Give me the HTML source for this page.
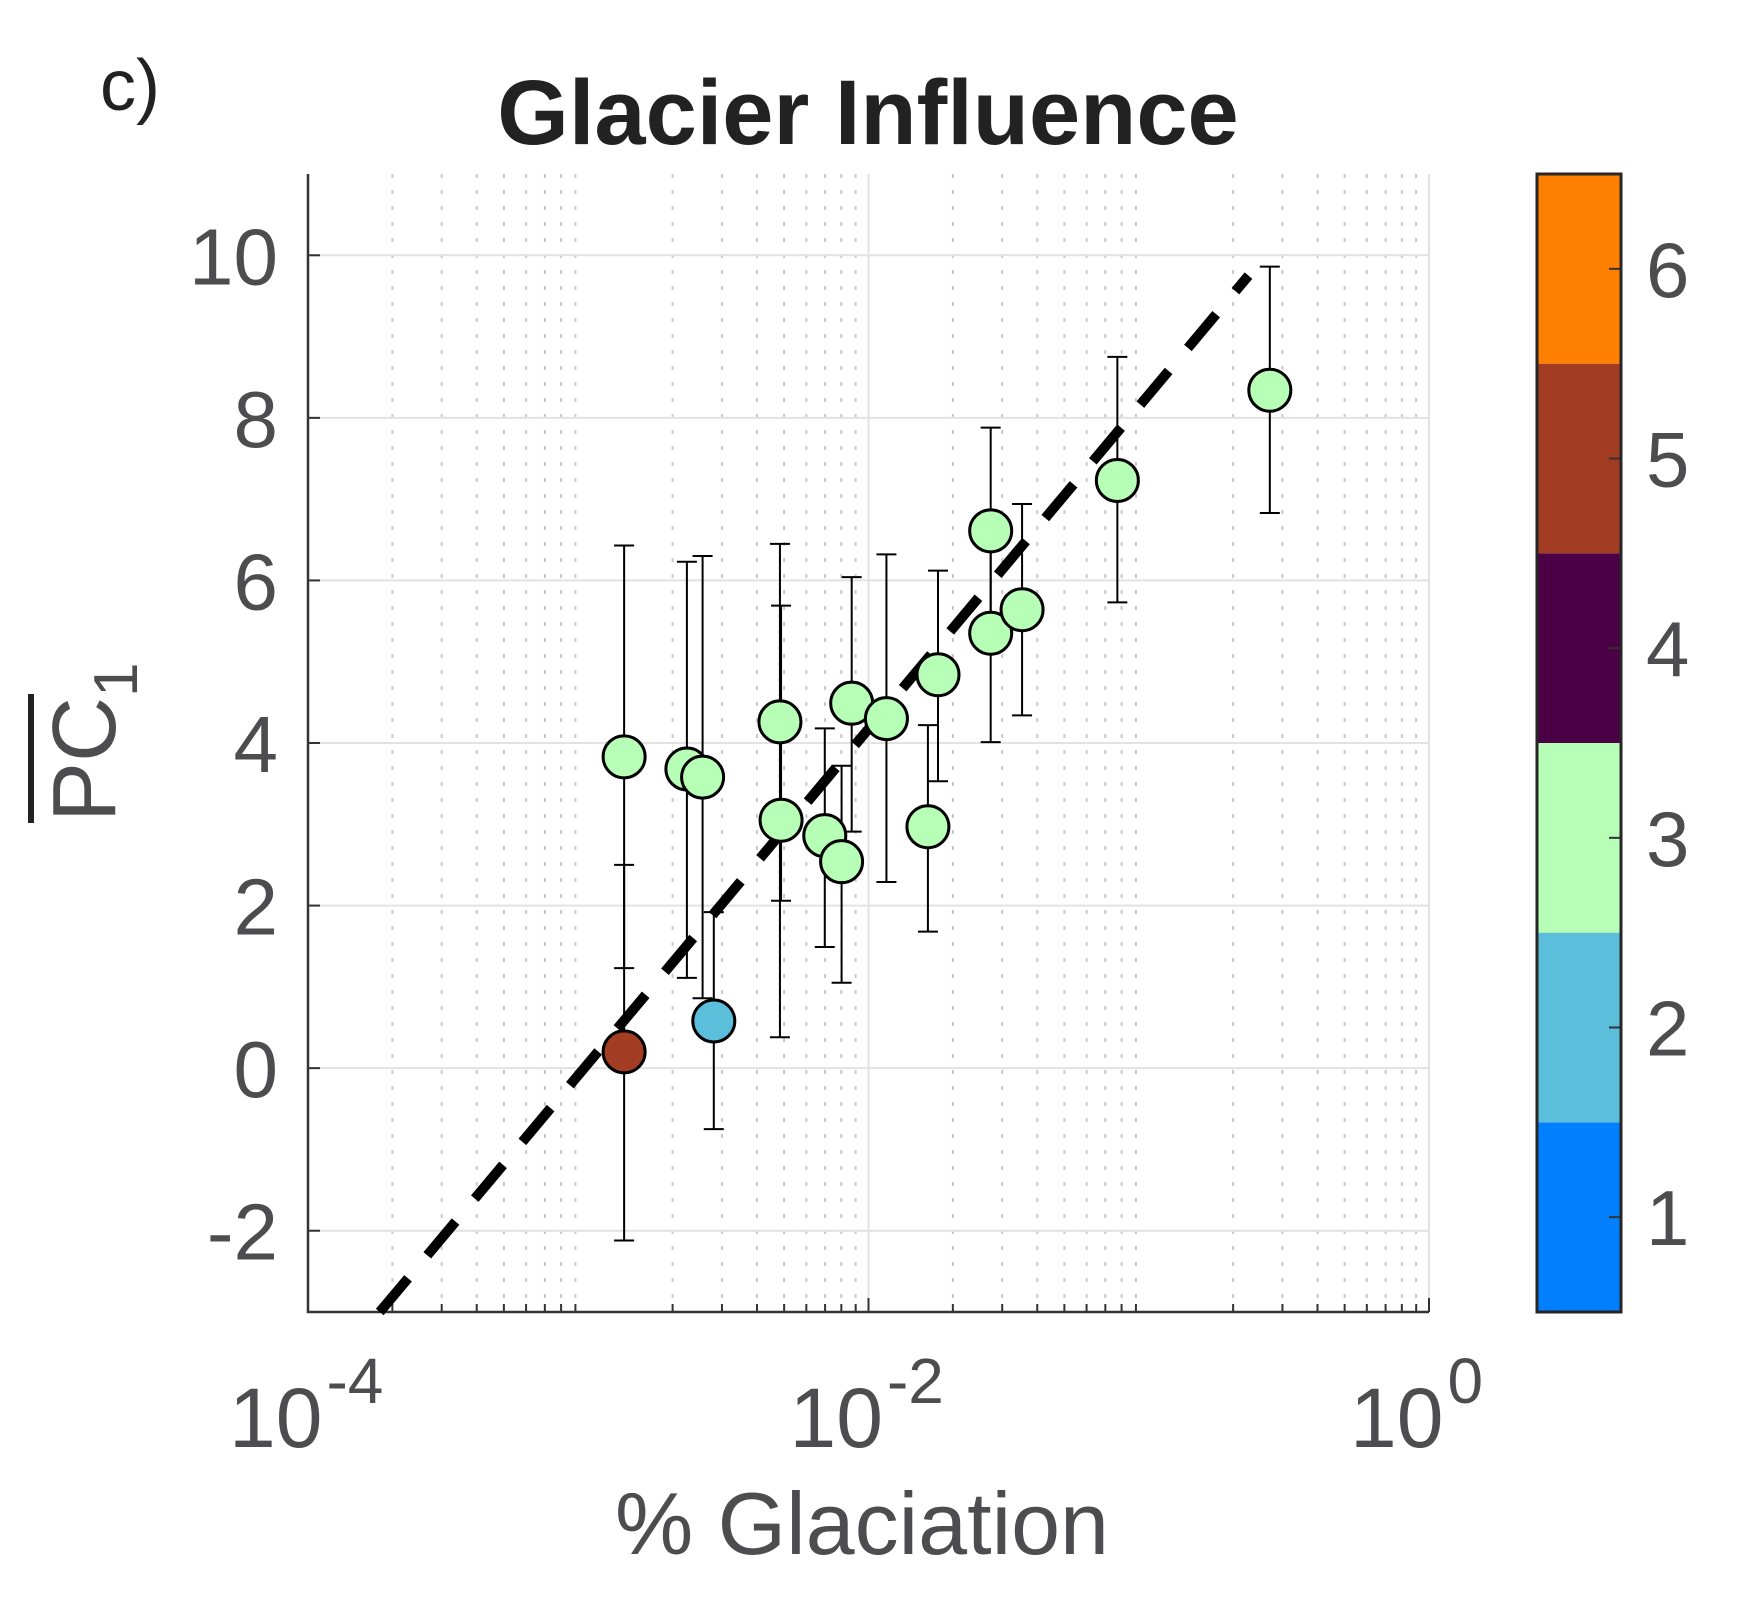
<!DOCTYPE html>
<html><head><meta charset="utf-8"><style>
body{margin:0;background:#fff}
svg{display:block}
text{font-family:"Liberation Sans",Arial,sans-serif}
</style></head><body>
<svg id="chart" width="1755" height="1608" viewBox="0 0 1755 1608" xmlns="http://www.w3.org/2000/svg">
<rect width="1755" height="1608" fill="#fff"/>
<g id="grid"></g>
<g id="axes"></g>
<g id="fit"></g>
<g id="errs"></g>
<g id="pts"></g>
<g id="cbar"></g>
<text x="100" y="110" font-size="72" fill="#222">c)</text>
<text x="868" y="144" font-size="92" font-weight="bold" fill="#222" text-anchor="middle">Glacier Influence</text>
<text x="862" y="1554" font-size="88" fill="#4d4d4f" text-anchor="middle">% Glaciation</text>
<g transform="translate(115,822) rotate(-90)">
<text x="0" y="0" font-size="90" fill="#4d4d4f">PC<tspan font-size="62" dy="22">1</tspan></text>
<line x1="-1" y1="-84" x2="128" y2="-84" stroke="#222" stroke-width="6"/>
</g>
</svg>
<script>
const logX = [-2.872,-2.872,-2.648,-2.592,-2.552,-2.316,-2.312,-2.156,-2.096,-2.06,-1.936,-1.788,-1.752,-1.564,-1.564,-1.452,-1.112,-0.568];
const yVal = [3.83,0.20,3.68,3.58,0.58,4.26,3.05,2.86,2.54,4.49,4.30,2.97,4.84,6.61,5.35,5.64,7.23,8.34];
const yHi = [6.43,2.50,6.23,6.30,1.92,6.45,5.69,4.18,3.72,6.04,6.32,4.22,6.12,7.88,6.60,6.94,8.75,9.86];
const yLo = [1.23,-2.12,1.11,0.86,-0.75,0.38,2.06,1.49,1.05,2.91,2.29,1.68,3.53,5.34,4.01,4.34,5.73,6.83];
const cls = [3,5,3,3,2,3,3,3,3,3,3,3,3,3,3,3,3,3];
const fitLog = [-3.744,-0.644];
const fitY = [-3.0,9.75];
const yTicks = [-2,0,2,4,6,8,10];
const xDecades = [-4,-2,0];
const cbarClasses = [1,2,3,4,5,6];
const cbarColors = ["#0080ff","#5bbfdc","#b7ffb7","#4b0045","#a23d23","#ff8000"];

const NS="http://www.w3.org/2000/svg";
const L=308,R=1429,T=174,B=1312;
const xs=v=>L+(v+4)/4*(R-L);
const ys=v=>B-(v+3)/14*(B-T);
function mk(p,tag,a){const e=document.createElementNS(NS,tag);for(const k in a)e.setAttribute(k,a[k]);p.appendChild(e);return e;}
const grid=document.getElementById('grid'),axes=document.getElementById('axes');
for(let d=-4;d<0;d++)for(let m=2;m<10;m++){
  const x=xs(d+Math.log10(m));
  const l=mk(grid,'line',{x1:x,y1:T,x2:x,y2:B,stroke:'#c8c8c8','stroke-width':2,'stroke-dasharray':'4 12'});
  
  
  const t=mk(axes,'line',{x1:x,y1:B,x2:x,y2:B-8,stroke:'#333','stroke-width':2});
  
  
}
for(const v of yTicks){
  const y=ys(v);
  const l=mk(grid,'line',{x1:L,y1:y,x2:R,y2:y,stroke:'#e2e2e2','stroke-width':2});
  
  
  const t=mk(axes,'line',{x1:L,y1:y,x2:L+12,y2:y,stroke:'#333','stroke-width':2});
  
  
  const tx=mk(axes,'text',{x:278,y:y+29,'font-size':80,fill:'#4d4d4f','text-anchor':'end'});
  tx.textContent=String(v);
  
  
}
for(const d of xDecades){
  const x=xs(d);
  const l=mk(grid,'line',{x1:x,y1:T,x2:x,y2:B,stroke:'#e2e2e2','stroke-width':2});
  
  
  const t=mk(axes,'line',{x1:x,y1:B,x2:x,y2:B-14,stroke:'#333','stroke-width':2});
  
  
  const tx=mk(axes,'text',{x:x-79,y:1447,'font-size':84,fill:'#4d4d4f'});
  tx.textContent='10';
  const sp=mk(tx,'tspan',{dy:-44,dx:4,'font-size':64});
  sp.textContent=String(d);
  
  
}
const ax=mk(axes,'path',{d:`M${L},${T}V${B}H${R}`,fill:'none',stroke:'#333','stroke-width':2.5});


const fl=mk(document.getElementById('fit'),'line',{x1:xs(fitLog[0]),y1:ys(fitY[0]),x2:xs(fitLog[1]),y2:ys(fitY[1]),stroke:'#000','stroke-width':10,'stroke-dasharray':'44 30'});


const eg=document.getElementById('errs'),pg=document.getElementById('pts');
for(let i=0;i<logX.length;i++){
  const x=xs(logX[i]);
  const e=mk(eg,'path',{d:`M${x},${ys(yHi[i])}V${ys(yLo[i])}M${x-10},${ys(yHi[i])}h20M${x-10},${ys(yLo[i])}h20`,stroke:'#000','stroke-width':2,fill:'none'});
  
  
}
for(let i=0;i<logX.length;i++){
  const c=mk(pg,'circle',{cx:xs(logX[i]),cy:ys(yVal[i]),r:21,fill:cbarColors[cls[i]-1],stroke:'#000','stroke-width':3});
  
  
}
const cg=document.getElementById('cbar');
const CL=1537,CR=1621,n=cbarClasses.length,h=(B-T)/n;
for(let i=0;i<n;i++){
  const y0=B-(i+1)*h;
  const r=mk(cg,'rect',{x:CL,y:y0,width:CR-CL,height:h,fill:cbarColors[i]});
  
  
  const yc=y0+h/2;
  const t=mk(cg,'line',{x1:CR-12,y1:yc,x2:CR,y2:yc,stroke:'#333','stroke-width':2});
  
  
  const tx=mk(cg,'text',{x:1646,y:yc+28,'font-size':78,fill:'#4d4d4f'});
  tx.textContent=String(cbarClasses[i]);
  
  
}
const bo=mk(cg,'rect',{x:CL,y:T,width:CR-CL,height:B-T,fill:'none',stroke:'#262626','stroke-width':3});


</script>
</body></html>
